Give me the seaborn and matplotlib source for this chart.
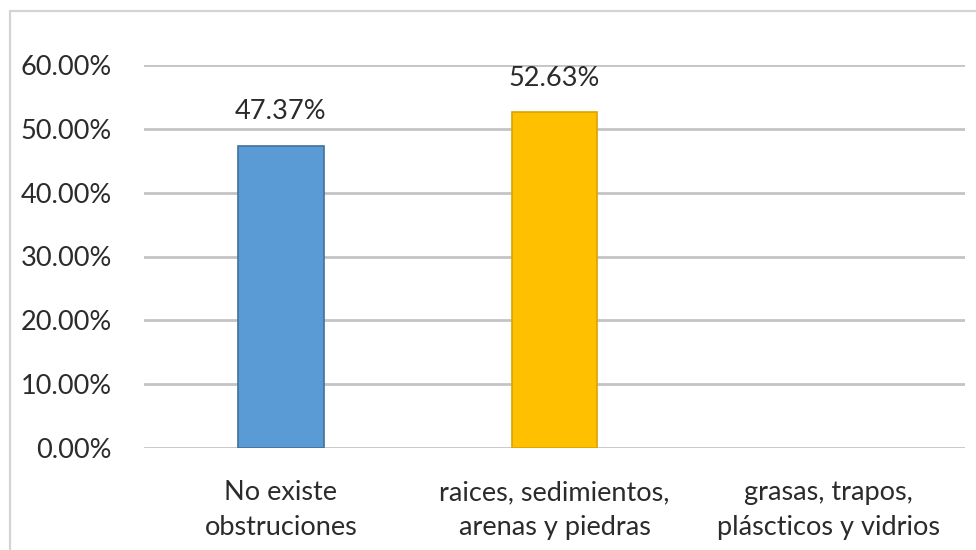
import matplotlib
matplotlib.use("Agg")
import matplotlib.pyplot as plt
from matplotlib.lines import Line2D
from matplotlib.ticker import FuncFormatter, MultipleLocator
import seaborn as sns
import pandas as pd

categories = ["No existe\nobstruciones",
              "raices, sedimientos,\narenas y piedras",
              "grasas, trapos,\npl\u00e1scticos y vidrios"]
values = [0.4737, 0.5263, 0.0]
colors = ["#5B9BD5", "#FFC000", "#A5A5A5"]
edges = ["#41719C", "#D9A300", "#A5A5A5"]

sns.set_theme(style="white")
plt.rcParams["font.family"] = ["Lato", "DejaVu Sans"]
text_color = "#2b2b2b"
fs = 19.5

df = pd.DataFrame({"cat": categories, "val": values})

fig = plt.figure(figsize=(9.76, 5.5), dpi=100)
ax = fig.add_axes([144 / 976, 1 - 448 / 550, (965 - 144) / 976, (448 - 65) / 550])

sns.barplot(data=df, x="cat", y="val", hue="cat", palette=colors, saturation=1,
            legend=False, width=0.314, ax=ax, zorder=3)
for patch, ec, v in zip(ax.patches, edges, values):
    patch.set_edgecolor(ec)
    patch.set_linewidth(1.2 if v > 0 else 0)

ax.set_ylim(0, 0.6)
ax.set_xlim(-0.5, 2.5)
ax.yaxis.set_major_locator(MultipleLocator(0.1))
ax.yaxis.set_major_formatter(FuncFormatter(lambda v, p: f"{v * 100:.2f}%"))
ax.grid(axis="y", color="#c4c4c4", linewidth=2, zorder=0)
ax.grid(axis="x", visible=False)
ax.set_axisbelow(True)
for s in ax.spines.values():
    s.set_visible(False)
ax.set_xlabel("")
ax.set_ylabel("")
ax.tick_params(axis="y", length=0, pad=23, labelsize=fs, labelcolor=text_color)
ax.tick_params(axis="x", length=0, pad=23, labelsize=fs, labelcolor=text_color)
for lbl in ax.get_xticklabels():
    lbl.set_linespacing(1.5)

for i, v in enumerate(values):
    if v > 0:
        ax.annotate(f"{v * 100:.2f}%", (i, v), xytext=(0, 24.5), textcoords="offset points",
                    ha="center", va="center", fontsize=fs, color=text_color,
                    annotation_clip=False)

# light frame on the top and left edges
fig.add_artist(Line2D([10 / 976, 1], [1 - 11 / 550] * 2, color="#d4d4d4", lw=1.6))
fig.add_artist(Line2D([10 / 976] * 2, [0, 1 - 11 / 550], color="#d4d4d4", lw=1.6))

fig.savefig("out.png", dpi=100)
